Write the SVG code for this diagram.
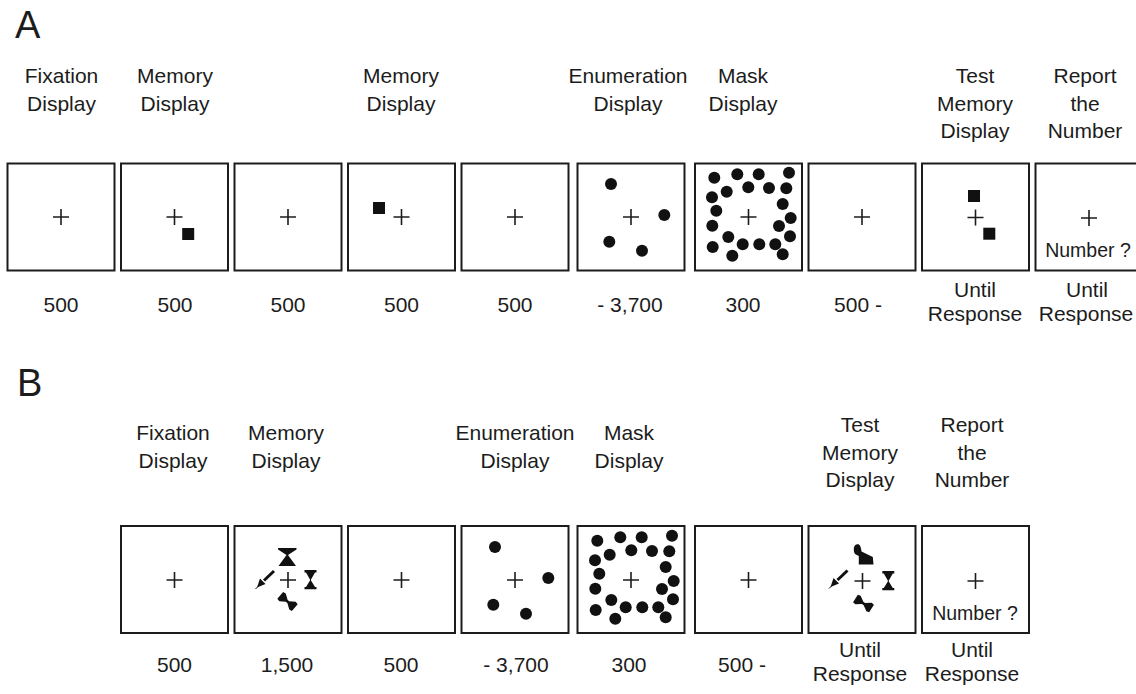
<svg xmlns="http://www.w3.org/2000/svg" width="1136" height="694" viewBox="0 0 1136 694">
<style>
.box{fill:#fff;stroke:#1c1c1c;stroke-width:2}
.cross{stroke:#1c1c1c;stroke-width:1.6;fill:none}
.ink{fill:#111;stroke:none}
.inkl{stroke:#111;fill:none}
text{font-family:"Liberation Sans",Arial,Helvetica,sans-serif;fill:#1c1c1c}
.lbl{font-size:21px;text-anchor:middle}
.num{font-size:19.5px;text-anchor:middle}
.panel{font-size:38px}
</style>
<defs>
<path id="cross" class="cross" d="M-8,0H8M0,-8V8"/>
<rect id="sq" class="ink" width="12" height="12"/>
<g id="enum-dots" class="ink">
<circle cx="-20.5" cy="-33" r="6"/><circle cx="32.8" cy="-2" r="6"/><circle cx="-22.2" cy="24.7" r="6"/><circle cx="10.5" cy="33.7" r="6"/>
</g>
<g id="mask-dots" class="ink">
<circle cx="-34.2" cy="-39.3" r="6"/><circle cx="-11.2" cy="-42.7" r="6"/><circle cx="10.2" cy="-42.7" r="6"/><circle cx="40.5" cy="-44.3" r="6"/>
<circle cx="-21.8" cy="-25.3" r="6"/><circle cx="-0.2" cy="-29.7" r="6"/><circle cx="20.5" cy="-29" r="6"/><circle cx="37.8" cy="-28.7" r="6"/>
<circle cx="-36.5" cy="-19.7" r="6"/><circle cx="-32.2" cy="-6.3" r="6"/><circle cx="-36.2" cy="8.7" r="6"/><circle cx="-35.8" cy="30" r="6"/>
<circle cx="34.2" cy="-13" r="6"/><circle cx="42.2" cy="1" r="6"/><circle cx="30.5" cy="9" r="6"/><circle cx="41.5" cy="19.3" r="6"/>
<circle cx="-20.2" cy="20" r="6"/><circle cx="-5.8" cy="27.3" r="6"/><circle cx="10.8" cy="27.3" r="6"/><circle cx="26.8" cy="27.3" r="6"/>
<circle cx="-16.2" cy="38.7" r="6"/><circle cx="34.2" cy="37.3" r="6"/>
</g>
<path id="hourglass" class="ink" d="M16.5,-10H28.5V-7.5H27L23,-0.5V0.5L27,7H28.5V9.3H16.5V7H18L22,0.5V-0.5L18,-7.5H16.5Z"/>
<g id="arrow">
<line class="inkl" x1="-14" y1="-9" x2="-24" y2="0.5" stroke-width="3"/>
<polygon class="ink" points="-31,7.5 -28,-1.5 -22.5,4"/>
<line class="inkl" x1="-29" y1="5.5" x2="-32.5" y2="9" stroke-width="1"/>
</g>
<polygon id="bowtie" class="ink" points="-9.5,-4.5 -6.5,-5 -1,-1.3 1,-1.3 6.5,-5 9.5,-4.5 9.5,4.5 6.5,5 1,1.3 -1,1.3 -6.5,5 -9.5,4.5"/>
</defs>

<text class="panel" x="15" y="38">A</text>
<text class="panel" x="17" y="396">B</text>

<g id="connectors"></g>

<!-- Panel A -->
<g id="a1-fixation">
<text class="lbl" x="61.5" y="83">Fixation</text><text class="lbl" x="61.5" y="110.5">Display</text>
<rect class="box" x="7.5" y="163.5" width="107" height="107"/>
<use href="#cross" x="61" y="217"/>
<text class="lbl" x="61" y="312">500</text>
</g>
<g id="a2-memory">
<text class="lbl" x="175" y="83">Memory</text><text class="lbl" x="175" y="110.5">Display</text>
<rect class="box" x="121" y="163.5" width="107" height="107"/>
<use href="#cross" x="174.5" y="217"/>
<use href="#sq" x="182.2" y="228"/>
<text class="lbl" x="175" y="312">500</text>
</g>
<g id="a3-blank">
<rect class="box" x="234.5" y="163.5" width="107" height="107"/>
<use href="#cross" x="288" y="217"/>
<text class="lbl" x="288" y="312">500</text>
</g>
<g id="a4-memory">
<text class="lbl" x="401" y="83">Memory</text><text class="lbl" x="401" y="110.5">Display</text>
<rect class="box" x="348" y="163.5" width="107" height="107"/>
<use href="#cross" x="401.5" y="217"/>
<use href="#sq" x="373" y="202"/>
<text class="lbl" x="401.5" y="312">500</text>
</g>
<g id="a5-blank">
<rect class="box" x="461.5" y="163.5" width="107" height="107"/>
<use href="#cross" x="515" y="217"/>
<text class="lbl" x="515" y="312">500</text>
</g>
<g id="a6-enumeration">
<text class="lbl" x="628" y="83">Enumeration</text><text class="lbl" x="628" y="110.5">Display</text>
<rect class="box" x="577.5" y="163.5" width="107" height="107"/>
<use href="#cross" x="631" y="217"/>
<use href="#enum-dots" x="631.5" y="217"/>
<text class="lbl" x="630" y="312">- 3,700</text>
</g>
<g id="a7-mask">
<text class="lbl" x="743" y="83">Mask</text><text class="lbl" x="743" y="110.5">Display</text>
<rect class="box" x="695" y="163.5" width="107" height="107"/>
<use href="#cross" x="748.5" y="217"/>
<use href="#mask-dots" x="748.5" y="217"/>
<text class="lbl" x="743" y="312">300</text>
</g>
<g id="a8-blank">
<rect class="box" x="808.5" y="163.5" width="107" height="107"/>
<use href="#cross" x="862" y="217"/>
<text class="lbl" x="858" y="312">500 -</text>
</g>
<g id="a9-test">
<text class="lbl" x="975" y="83">Test</text><text class="lbl" x="975" y="110.5">Memory</text><text class="lbl" x="975" y="138">Display</text>
<rect class="box" x="922" y="163.5" width="107" height="107"/>
<use href="#cross" x="975.5" y="217.5"/>
<use href="#sq" x="968" y="190"/>
<use href="#sq" x="983.3" y="227.7"/>
<text class="lbl" x="975" y="297">Until</text><text class="lbl" x="975" y="321">Response</text>
</g>
<g id="a10-report">
<text class="lbl" x="1085" y="83">Report</text><text class="lbl" x="1085" y="110.5">the</text><text class="lbl" x="1085" y="138">Number</text>
<rect class="box" x="1035.5" y="163.5" width="107" height="107"/>
<use href="#cross" x="1089" y="218"/>
<text class="num" x="1088" y="256.7">Number ?</text>
<text class="lbl" x="1087" y="297">Until</text><text class="lbl" x="1086" y="321">Response</text>
</g>

<!-- Panel B -->
<g id="b1-fixation">
<text class="lbl" x="173" y="440">Fixation</text><text class="lbl" x="173" y="467.5">Display</text>
<rect class="box" x="121" y="526" width="107" height="107"/>
<use href="#cross" x="174.5" y="580"/>
<text class="lbl" x="174.5" y="672">500</text>
</g>
<g id="b2-memory">
<text class="lbl" x="286" y="440">Memory</text><text class="lbl" x="286" y="467.5">Display</text>
<rect class="box" x="234.5" y="526" width="107" height="107"/>
<use href="#cross" x="288" y="580"/>
<g transform="translate(288,580)">
<polygon class="ink" points="-10,-32 8.5,-32 8.5,-30.5 0,-25 8,-14 -9.5,-14 -1.5,-25 -10,-30.5"/>
<use href="#hourglass"/>
<use href="#arrow"/>
<use href="#bowtie" transform="translate(-0.5,21.5) rotate(40)"/>
</g>
<text class="lbl" x="287" y="672">1,500</text>
</g>
<g id="b3-blank">
<rect class="box" x="348" y="526" width="107" height="107"/>
<use href="#cross" x="401.5" y="580"/>
<text class="lbl" x="401" y="672">500</text>
</g>
<g id="b4-enumeration">
<text class="lbl" x="515" y="440">Enumeration</text><text class="lbl" x="515" y="467.5">Display</text>
<rect class="box" x="461.5" y="526" width="107" height="107"/>
<use href="#cross" x="515" y="580"/>
<use href="#enum-dots" x="515.5" y="580"/>
<text class="lbl" x="516" y="672">- 3,700</text>
</g>
<g id="b5-mask">
<text class="lbl" x="629" y="440">Mask</text><text class="lbl" x="629" y="467.5">Display</text>
<rect class="box" x="577.5" y="526" width="107" height="107"/>
<use href="#cross" x="631" y="580"/>
<use href="#mask-dots" x="631.5" y="580"/>
<text class="lbl" x="629" y="672">300</text>
</g>
<g id="b6-blank">
<rect class="box" x="695" y="526" width="107" height="107"/>
<use href="#cross" x="748.5" y="580"/>
<text class="lbl" x="742" y="672">500 -</text>
</g>
<g id="b7-test">
<text class="lbl" x="860" y="432">Test</text><text class="lbl" x="860" y="459.5">Memory</text><text class="lbl" x="860" y="487">Display</text>
<rect class="box" x="808.5" y="526" width="107" height="107"/>
<use href="#cross" x="862.5" y="581"/>
<g transform="translate(862.5,581)">
<path class="ink" d="M-8.7,-32C-8.7,-35.5 -6.5,-36.7 -4.8,-36.7C-2.5,-36.7 -1.5,-34 -1,-29.5L10.3,-24L11,-16.4L-3.7,-16.4L-3.7,-25L-7.5,-27C-8.5,-28.5 -8.7,-30 -8.7,-32Z"/>
<use href="#hourglass" x="3.3"/>
<use href="#arrow" transform="translate(-1,-1.5)"/>
<use href="#bowtie" transform="translate(1,22.5) rotate(32)"/>
</g>
<text class="lbl" x="860" y="657">Until</text><text class="lbl" x="860" y="681">Response</text>
</g>
<g id="b8-report">
<text class="lbl" x="972" y="432">Report</text><text class="lbl" x="972" y="459.5">the</text><text class="lbl" x="972" y="487">Number</text>
<rect class="box" x="922" y="526" width="107" height="107"/>
<use href="#cross" x="975.5" y="581"/>
<text class="num" x="975" y="619.5">Number ?</text>
<text class="lbl" x="972" y="657">Until</text><text class="lbl" x="972" y="681">Response</text>
</g>
</svg>
